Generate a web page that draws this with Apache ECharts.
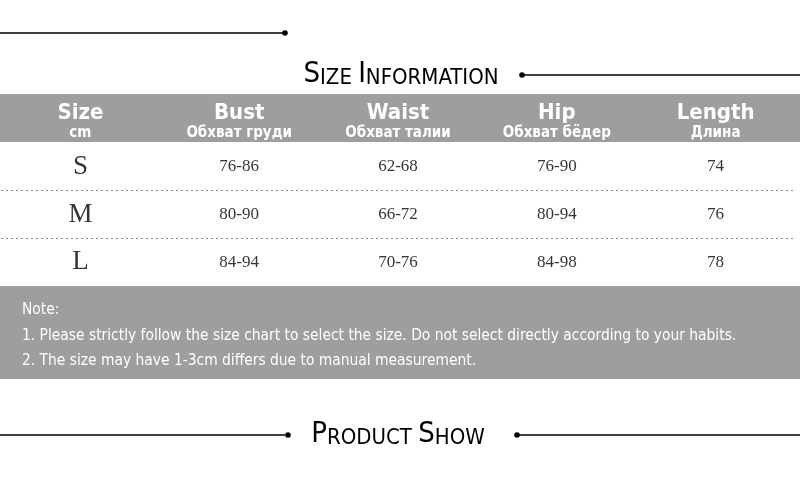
<!DOCTYPE html>
<html><head><meta charset="utf-8">
<script src="https://cdn.jsdelivr.net/npm/echarts@6/dist/echarts.min.js"></script>
<style>html,body{margin:0;padding:0;background:#fff}#c{width:800px;height:480px}</style>
</head><body><div id="c"></div>
<script>
const columns = ['Size', 'Bust', 'Waist', 'Hip', 'Length'];
const columnsRu = ['cm', 'Обхват груди', 'Обхват талии', 'Обхват бёдер', 'Длина'];
const sizes = ['S', 'M', 'L'];
const bust = ['76-86', '80-90', '84-94'];
const waist = ['62-68', '66-72', '70-76'];
const hip = ['76-90', '80-94', '84-98'];
const length = ['74', '76', '78'];
const notes = [
  'Note:',
  '1. Please strictly follow the size chart to select the size. Do not select directly according to your habits.',
  '2. The size may have 1-3cm differs due to manual measurement.'
];
const titleTop = 'Size Information';
const titleBottom = 'Product Show';

const table = [sizes, bust, waist, hip, length];
const cells = [];
table.forEach((col, ci) => col.forEach((v, ri) => {
  cells.push({
    value: [ci, ri, v],
    label: ci === 0 ? { fontSize: 27 } : { fontSize: 17 }
  });
}));

function smallCaps(str) {
  return str.split(' ').map(w => '{b|' + w[0].toUpperCase() + '}{s|' + w.slice(1).toUpperCase() + '}').join('{s| }');
}
const narrow = '"Liberation Sans Narrow", "DejaVu Sans Condensed", sans-serif';
const capRich = {
  b: { fontSize: 29, fontFamily: narrow, color: '#000', lineHeight: 32, verticalAlign: 'bottom' },
  s: { fontSize: 22, fontFamily: narrow, color: '#000', lineHeight: 32, verticalAlign: 'bottom' }
};
const lineStyle = { stroke: '#000', lineWidth: 1.6 };

const graphics = [
  { type: 'rect', z: -10, shape: { x: 0, y: 94, width: 800, height: 48 }, style: { fill: '#9e9e9e' } },
  { type: 'rect', z: -10, shape: { x: 0, y: 286, width: 800, height: 93 }, style: { fill: '#9e9e9e' } },
  { type: 'line', shape: { x1: 0, y1: 33, x2: 283, y2: 33 }, style: lineStyle },
  { type: 'circle', shape: { cx: 285, cy: 33, r: 2.8 }, style: { fill: '#000' } },
  { type: 'text', x: 401, y: 73, style: { text: smallCaps(titleTop), align: 'center', verticalAlign: 'middle', rich: capRich } },
  { type: 'circle', shape: { cx: 522, cy: 75, r: 2.8 }, style: { fill: '#000' } },
  { type: 'line', shape: { x1: 524, y1: 75, x2: 800, y2: 75 }, style: lineStyle },
  { type: 'line', shape: { x1: 0, y1: 435, x2: 285, y2: 435 }, style: lineStyle },
  { type: 'circle', shape: { cx: 288, cy: 435, r: 2.8 }, style: { fill: '#000' } },
  { type: 'text', x: 398, y: 433, style: { text: smallCaps(titleBottom), align: 'center', verticalAlign: 'middle', rich: capRich } },
  { type: 'circle', shape: { cx: 517, cy: 435, r: 2.8 }, style: { fill: '#000' } },
  { type: 'line', shape: { x1: 519, y1: 435, x2: 800, y2: 435 }, style: lineStyle }
];
notes.forEach((t, i) => {
  graphics.push({ type: 'text', x: 22, y: 310 + i * 25.5, style: { text: t, fill: '#fff', font: '15.4px ' + narrow, verticalAlign: 'middle' } });
});

const chart = echarts.init(document.getElementById('c'));
chart.setOption({
  backgroundColor: '#fff',
  animation: false,
  grid: { left: 1, right: 5, top: 143, bottom: 194 },
  xAxis: {
    type: 'category', position: 'top', data: columns,
    axisLine: { show: false }, axisTick: { show: false },
    axisLabel: {
      margin: 0, interval: 0,
      formatter: (v, i) => '{a|' + v + '}\n{b|' + columnsRu[i] + '}',
      rich: {
        a: { fontSize: 22, fontWeight: 'bold', fontFamily: narrow, color: '#fff', lineHeight: 22 },
        b: { fontSize: 15, fontWeight: 'bold', fontFamily: narrow, color: '#fff', lineHeight: 19 }
      }
    }
  },
  yAxis: {
    type: 'category', data: sizes, inverse: true,
    axisLine: { show: false }, axisTick: { show: false }, axisLabel: { show: false },
    splitLine: { show: true, showMinLine: false, showMaxLine: false, lineStyle: { type: [2, 3], color: '#888', width: 1 } }
  },
  series: [{
    type: 'scatter', symbolSize: 0, data: cells,
    label: {
      show: true, position: 'inside', color: '#000', fontFamily: '"Liberation Serif", serif',
      formatter: p => p.value[2]
    }
  }],
  graphic: graphics
});
</script></body></html>
